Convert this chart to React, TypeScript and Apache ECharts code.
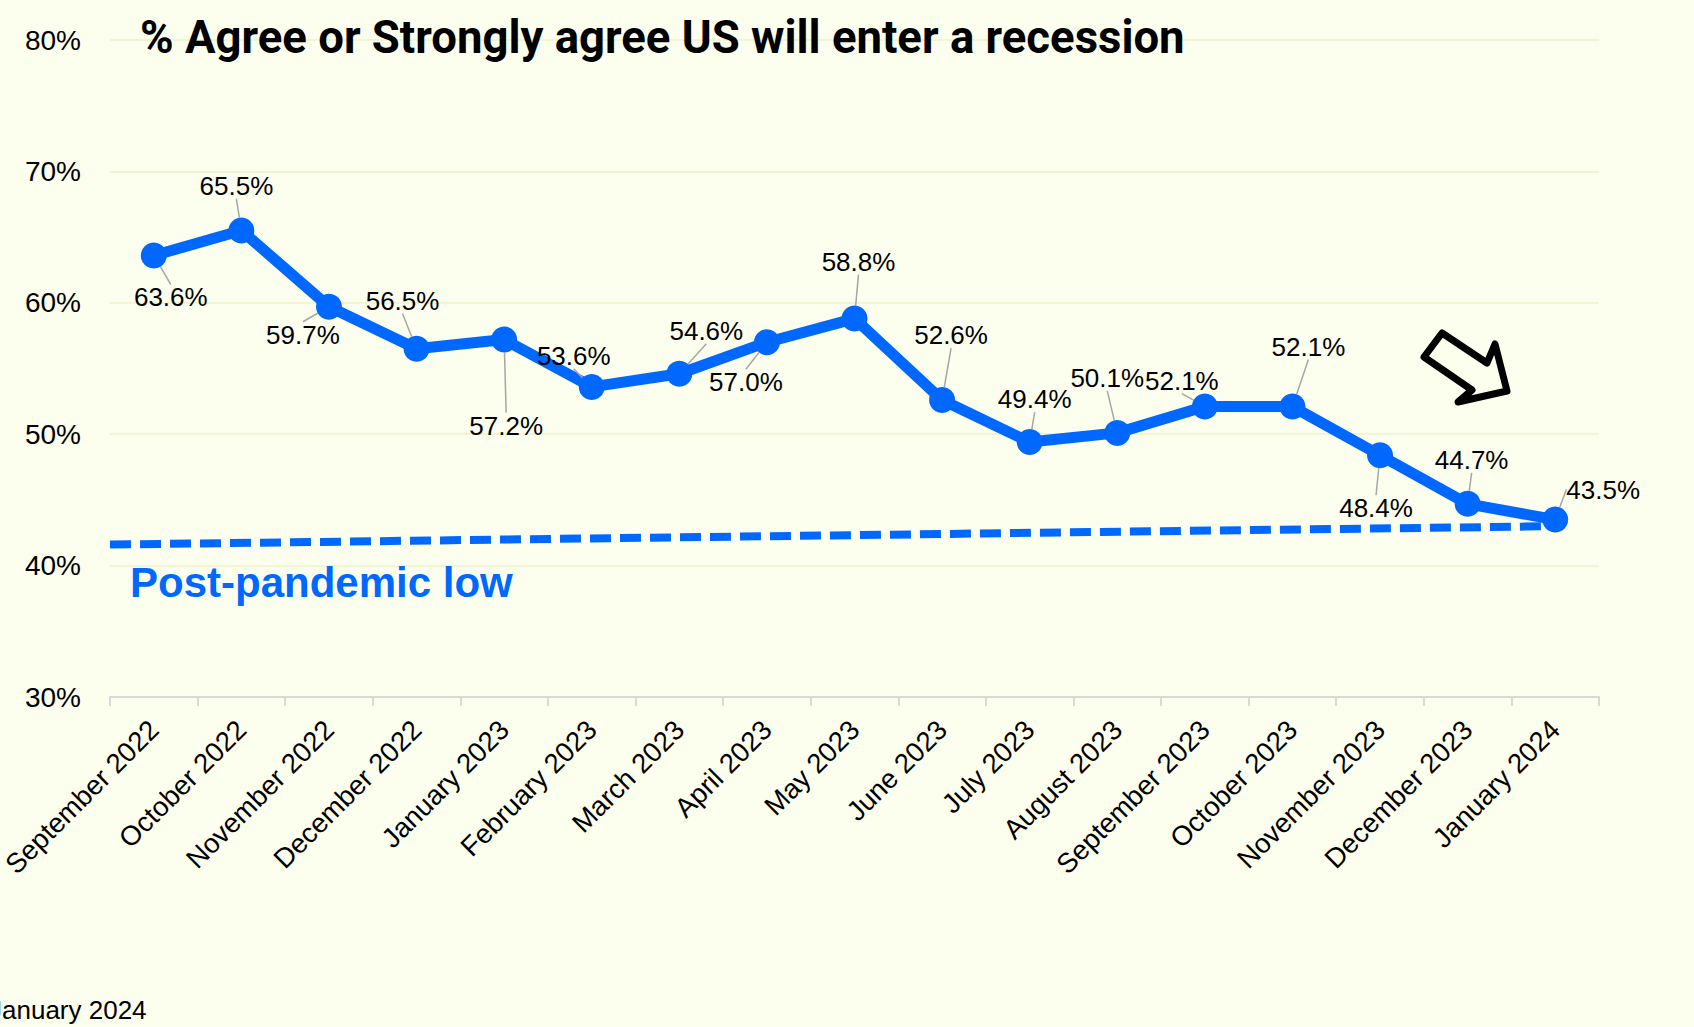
import React, { useEffect, useRef } from "react";
import * as echarts from "echarts";

const categories = [
  "September 2022", "October 2022", "November 2022", "December 2022",
  "January 2023", "February 2023", "March 2023", "April 2023", "May 2023",
  "June 2023", "July 2023", "August 2023", "September 2023", "October 2023",
  "November 2023", "December 2023", "January 2024",
];
const agreeValues = [63.6, 65.5, 59.7, 56.5, 57.2, 53.6, 54.6, 57.0, 58.8, 52.6, 49.4, 50.1, 52.1, 52.1, 48.4, 44.7, 43.5];
const lowLineX = [0, 16.5];
const lowLineY = [41.6, 43.0];
const yMin = 30;
const yMax = 80;
const yStep = 10;

const titleText = "% Agree or Strongly agree US will enter a recession";
const lowText = "Post-pandemic low";
const footText = "January 2024";

// label offsets (px from point centre) - layout only
const labelOffsets: [number, number][] = [
  [17, 42], [-5, -45], [-26, 28], [-14, -48], [2, 86], [-18, -31], [27, -43],
  [-21, 40], [4, -57], [9, -65], [5, -43], [-10, -55], [-23, -26], [16, -60],
  [-4, 53], [4, -44], [48, -30],
];

const BLUE = "#0068FF";
const BG = "#FCFFEE";
const SANS = "'Liberation Sans', Arial, sans-serif";

export default function App() {
  const ref = useRef<HTMLDivElement>(null);
  useEffect(() => {
    if (!ref.current) return;
    const chart = echarts.init(ref.current, undefined, { renderer: "svg" });
    chart.setOption({
      animation: false,
      backgroundColor: BG,
      grid: {
        left: 110, right: 95, top: 40, bottom: 330,
        containLabel: false, outerBoundsMode: "none",
      },
      xAxis: [
        {
          type: "category",
          data: categories,
          boundaryGap: true,
          axisLine: { show: true, lineStyle: { color: "#D9D9D9", width: 2 } },
          axisTick: { show: true, length: 9, lineStyle: { color: "#D9D9D9", width: 2 } },
          axisLabel: {
            interval: 0,
            rotate: 45,
            margin: 28,
            fontSize: 27.5,
            color: "#000",
            fontFamily: SANS,
          },
          splitLine: { show: false },
        },
        {
          type: "value",
          min: 0,
          max: categories.length,
          show: false,
          position: "bottom",
        },
      ],
      yAxis: {
        type: "value",
        min: yMin,
        max: yMax,
        interval: yStep,
        axisLine: { show: false },
        axisTick: { show: false },
        axisLabel: {
          formatter: (v: number) => `${v}%`,
          fontSize: 28,
          color: "#000",
          fontFamily: SANS,
          margin: 29,
        },
        splitLine: { show: true, lineStyle: { color: "#F1F5D2", width: 2 } },
      },
      series: [
        {
          type: "line",
          xAxisIndex: 1,
          data: lowLineX.map((x, i) => [x, lowLineY[i]]),
          symbol: "none",
          lineStyle: { color: BLUE, width: 8, type: [21, 9] },
          z: 1,
          silent: true,
        },
        {
          type: "line",
          xAxisIndex: 0,
          data: agreeValues,
          symbol: "circle",
          symbolSize: 26,
          itemStyle: { color: BLUE },
          lineStyle: { color: BLUE, width: 11 },
          z: 3,
          label: {
            show: true,
            position: "inside",
            formatter: (p: any) => `${Number(p.value).toFixed(1)}%`,
            fontSize: 26,
            color: "#000",
            fontFamily: SANS,
          },
          labelLine: { show: true, lineStyle: { color: "#A6A6A6", width: 1.5 } },
          labelLayout: (params: any) => {
            const o = labelOffsets[params.dataIndex] || [0, -40];
            const r = params.rect;
            const cx = r.x + r.width / 2;
            const cy = r.y + r.height / 2;
            return { x: cx + o[0], y: cy + o[1], align: "center", verticalAlign: "middle" };
          },
        },
      ],
      graphic: [
        {
          type: "text",
          x: 140,
          y: 37,
          z: 10,
          style: {
            text: titleText,
            fontSize: 45.5,
            fontWeight: 700,
            fontFamily: "Roboto, 'Liberation Sans', sans-serif",
            fill: "#000",
            verticalAlign: "middle",
            align: "left",
          },
        },
        {
          type: "text",
          x: 130,
          y: 582,
          z: 10,
          style: {
            text: lowText,
            fontSize: 42,
            fontWeight: 700,
            fontFamily: SANS,
            fill: BLUE,
            verticalAlign: "middle",
            align: "left",
          },
        },
        {
          type: "text",
          x: -11,
          y: 1010,
          z: 10,
          style: {
            text: footText,
            fontSize: 26,
            fontFamily: SANS,
            fill: "#000",
            verticalAlign: "middle",
            align: "left",
          },
        },
        {
          type: "polygon",
          z: 10,
          shape: {
            points: [
              [1442, 333], [1487, 363], [1495, 344], [1507, 391],
              [1458, 402], [1472, 390], [1424, 357],
            ],
          },
          style: { fill: "none", stroke: "#000", lineWidth: 7, lineJoin: "round" },
        },
      ],
    });
    return () => chart.dispose();
  }, []);
  return (
    <div
      ref={ref}
      style={{ position: "absolute", left: 0, top: 0, width: 1694, height: 1027 }}
    />
  );
}
